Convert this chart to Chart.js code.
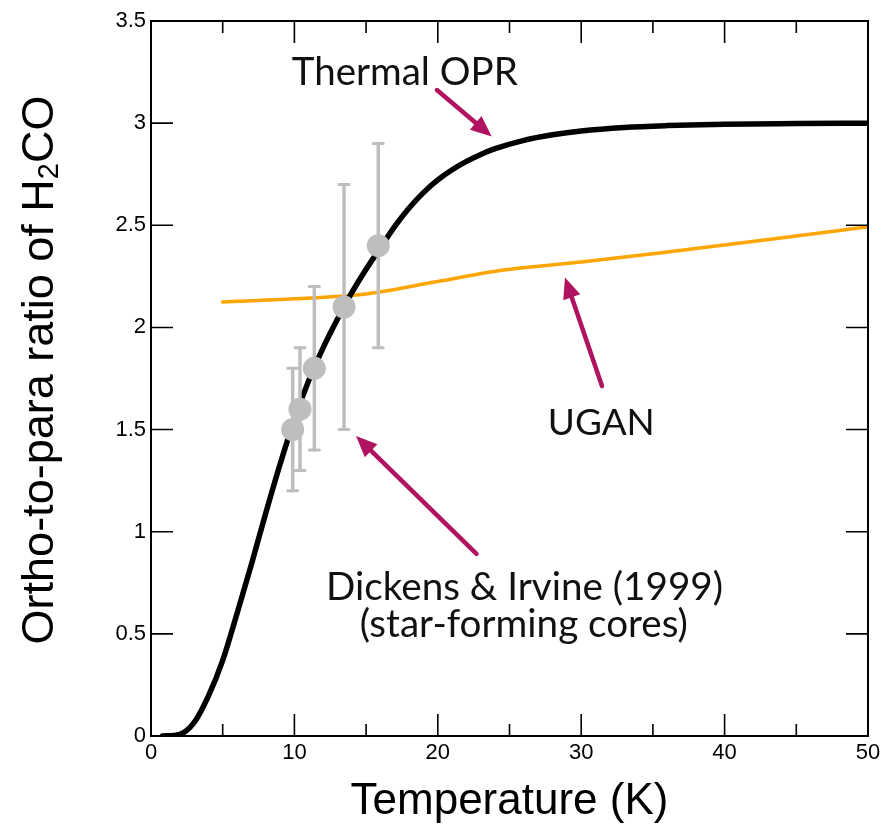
<!DOCTYPE html>
<html><head><meta charset="utf-8">
<script src="https://cdn.jsdelivr.net/npm/chart.js@4.4.1/dist/chart.umd.min.js"></script>
<style>html,body{margin:0;padding:0;background:#fff;}#wrap{width:890px;height:827px;position:relative;}</style>
</head><body><div id="wrap"><canvas id="c" width="890" height="827"></canvas></div>
<script>
// ---- data ----
const thermalT   = [0.8, 2, 3, 4, 5, 6, 7, 8, 9, 10, 11, 12, 13, 14, 15, 16, 17, 18, 19, 20, 21, 22, 23, 24, 26, 28, 30, 33, 36, 40, 45, 50];
const thermalOPR = [0, 0.008, 0.065, 0.195, 0.37, 0.6, 0.84, 1.09, 1.33, 1.55, 1.74, 1.90, 2.04, 2.17, 2.285, 2.39, 2.495, 2.585, 2.66, 2.722, 2.772, 2.813, 2.847, 2.875, 2.916, 2.943, 2.962, 2.979, 2.988, 2.995, 2.998, 3.0];
const uganT   = [5, 10, 14.8, 20, 24.6, 30, 35.3, 42.8, 50];
const uganOPR = [2.124, 2.14, 2.162, 2.225, 2.281, 2.32, 2.363, 2.428, 2.493];
const obsT    = [9.88, 10.39, 11.39, 13.46, 15.85];
const obsOPR  = [1.5, 1.6, 1.8, 2.1, 2.4];
const obsLow  = [1.2, 1.3, 1.4, 1.5, 1.9];
const obsHigh = [1.8, 1.9, 2.2, 2.7, 2.9];
const xMajorTicks = [0, 10, 20, 30, 40, 50];
const xMinorTicks = [5, 15, 25, 35, 45];
const yTicks = [0, 0.5, 1, 1.5, 2, 2.5, 3, 3.5];
const xTickLabels = ['0', '10', '20', '30', '40', '50'];
const yTickLabels = ['0', '0.5', '1', '1.5', '2', '2.5', '3', '3.5'];
const xTitle = 'Temperature (K)';
const yTitleParts = ['Ortho-to-para ratio of H', '2', 'CO'];
const noteThermal = 'Thermal OPR';
const noteUgan = 'UGAN';
const noteObs = ['Dickens & Irvine (1999)', '(star-forming cores)'];

// annotation placement (data units)
const notes = [
  {text: noteThermal, x: 17.7, y: 3.187, w: 226},
  {text: noteUgan, x: 31.4, y: 1.473, w: 107},
  {text: noteObs[0], x: 26.05, y: 0.666, w: 397, group: 'obs'},
  {text: noteObs[1], x: 26.0, y: 0.4846, group: 'obs'}
];
const arrows = [
  {from: [19.94, 3.162], to: [23.76, 2.935]},
  {from: [31.45, 1.713], to: [28.87, 2.245]},
  {from: [22.7, 0.891], to: [14.3, 1.468]}
];

const MAG = '#B0135F';
const GRAY = '#BEBEBE';
const NOTE_FONT = 'Lato, "DejaVu Sans", sans-serif';
const AX_FONT = '"Liberation Sans", Arial, sans-serif';

const toXY = (xs, ys) => xs.map((x, i) => ({x: x, y: ys[i]}));

const framePlugin = {
  id: 'frame',
  beforeDatasetDraw(chart, args) {
    if (args.index !== 2) return;
    const ctx = chart.ctx, xs = chart.scales.x, ys = chart.scales.y;
    ctx.save();
    ctx.strokeStyle = GRAY; ctx.lineCap = 'round';
    obsT.forEach((t, i) => {
      const px = xs.getPixelForValue(t);
      const lo = ys.getPixelForValue(obsLow[i]), hi = ys.getPixelForValue(obsHigh[i]);
      ctx.lineWidth = 3.5;
      ctx.beginPath(); ctx.moveTo(px, lo); ctx.lineTo(px, hi); ctx.stroke();
      ctx.lineWidth = 3;
      ctx.beginPath(); ctx.moveTo(px - 5, lo); ctx.lineTo(px + 5, lo);
      ctx.moveTo(px - 5, hi); ctx.lineTo(px + 5, hi); ctx.stroke();
    });
    ctx.restore();
  },
  afterDraw(chart) {
    const ctx = chart.ctx, a = chart.chartArea, xs = chart.scales.x, ys = chart.scales.y;
    ctx.save();
    // frame
    ctx.strokeStyle = '#000'; ctx.lineWidth = 2;
    ctx.strokeRect(a.left, a.top, a.right - a.left, a.bottom - a.top);
    // inward ticks
    ctx.lineWidth = 1.6;
    ctx.beginPath();
    const xt = (v, len) => { const p = xs.getPixelForValue(v);
      ctx.moveTo(p, a.bottom); ctx.lineTo(p, a.bottom - len);
      ctx.moveTo(p, a.top); ctx.lineTo(p, a.top + len); };
    xMajorTicks.forEach(v => xt(v, 22));
    xMinorTicks.forEach(v => xt(v, 12));
    yTicks.forEach(v => { const p = ys.getPixelForValue(v);
      ctx.moveTo(a.left, p); ctx.lineTo(a.left + 22, p);
      ctx.moveTo(a.right, p); ctx.lineTo(a.right - 22, p); });
    ctx.stroke();

    // tick labels
    ctx.fillStyle = '#000';
    ctx.font = '22px ' + AX_FONT;
    ctx.textAlign = 'center'; ctx.textBaseline = 'top';
    xMajorTicks.forEach((v, i) => ctx.fillText(xTickLabels[i], xs.getPixelForValue(v), a.bottom + 6));
    ctx.textAlign = 'right'; ctx.textBaseline = 'middle';
    yTicks.forEach((v, i) => ctx.fillText(yTickLabels[i], a.left - 5, ys.getPixelForValue(v)));

    // axis titles
    ctx.font = '44px ' + AX_FONT;
    ctx.textAlign = 'center'; ctx.textBaseline = 'alphabetic';
    ctx.fillText(xTitle, (a.left + a.right) / 2, 814);

    ctx.save();
    ctx.translate(53, 370);
    ctx.rotate(-Math.PI / 2);
    ctx.textAlign = 'left';
    const big = '45px ' + AX_FONT;
    const small = '29px ' + AX_FONT;
    ctx.font = big; const w1 = ctx.measureText(yTitleParts[0]).width;
    const w3 = ctx.measureText(yTitleParts[2]).width;
    ctx.font = small; const w2 = ctx.measureText(yTitleParts[1]).width;
    let x0 = -(w1 + w2 + w3) / 2;
    ctx.font = big; ctx.fillText(yTitleParts[0], x0, 0);
    ctx.font = small; ctx.fillText(yTitleParts[1], x0 + w1, 5);
    ctx.font = big; ctx.fillText(yTitleParts[2], x0 + w1 + w2, 0);
    ctx.restore();

    // arrows
    ctx.strokeStyle = MAG; ctx.fillStyle = MAG; ctx.lineWidth = 4.5; ctx.lineCap = 'round';
    arrows.forEach(ar => {
      const x1 = xs.getPixelForValue(ar.from[0]), y1 = ys.getPixelForValue(ar.from[1]);
      const x2 = xs.getPixelForValue(ar.to[0]), y2 = ys.getPixelForValue(ar.to[1]);
      const ang = Math.atan2(y2 - y1, x2 - x1);
      const hl = 21, hw = 9;
      const bx = x2 - hl * Math.cos(ang), by = y2 - hl * Math.sin(ang);
      ctx.beginPath(); ctx.moveTo(x1, y1); ctx.lineTo(bx + 3 * Math.cos(ang), by + 3 * Math.sin(ang)); ctx.stroke();
      ctx.beginPath(); ctx.moveTo(x2, y2);
      ctx.lineTo(bx + hw * Math.sin(ang), by - hw * Math.cos(ang));
      ctx.lineTo(bx - hw * Math.sin(ang), by + hw * Math.cos(ang));
      ctx.closePath(); ctx.fill();
    });

    // notes
    ctx.fillStyle = '#111'; ctx.textAlign = 'center'; ctx.textBaseline = 'alphabetic';
    let groupSize = null;
    notes.forEach(n => {
      let size;
      if (n.w) {
        ctx.font = '100px ' + NOTE_FONT;
        size = 100 * n.w / ctx.measureText(n.text).width;
        if (n.group) groupSize = size;
      } else size = groupSize;
      ctx.font = size.toFixed(2) + 'px ' + NOTE_FONT;
      ctx.fillText(n.text, xs.getPixelForValue(n.x), ys.getPixelForValue(n.y));
    });
    ctx.restore();
  }
};

new Chart(document.getElementById('c'), {
  type: 'line',
  data: {
    datasets: [
      {label: 'Thermal OPR', data: toXY(thermalT, thermalOPR), borderColor: '#000', borderWidth: 5.5,
       pointRadius: 0, cubicInterpolationMode: 'monotone', borderCapStyle: 'round', borderJoinStyle: 'round', order: 2},
      {label: 'UGAN', data: toXY(uganT, uganOPR), borderColor: '#FFA500', borderWidth: 3.5,
       pointRadius: 0, cubicInterpolationMode: 'monotone', borderCapStyle: 'round', order: 3},
      {label: 'Dickens & Irvine (1999)', type: 'scatter', data: toXY(obsT, obsOPR), showLine: false,
       pointRadius: 11.5, pointBackgroundColor: GRAY, pointBorderWidth: 0, borderColor: GRAY, order: 1}
    ]
  },
  options: {
    responsive: false, devicePixelRatio: 1, animation: false,
    layout: {padding: {top: 21, right: 22, left: 0, bottom: 0}},
    plugins: {legend: {display: false}, tooltip: {enabled: false}},
    scales: {
      x: {type: 'linear', min: 0, max: 50,
        afterBuildTicks: s => { s.ticks = xMajorTicks.map(v => ({value: v})); },
        afterFit: s => { s.height = 91; },
        grid: {display: false, drawTicks: false}, border: {display: false},
        ticks: {display: false}},
      y: {type: 'linear', min: 0, max: 3.5,
        afterBuildTicks: s => { s.ticks = yTicks.map(v => ({value: v})); },
        afterFit: s => { s.width = 151; },
        grid: {display: false, drawTicks: false}, border: {display: false},
        ticks: {display: false}}
    }
  },
  plugins: [framePlugin]
});
</script></body></html>
